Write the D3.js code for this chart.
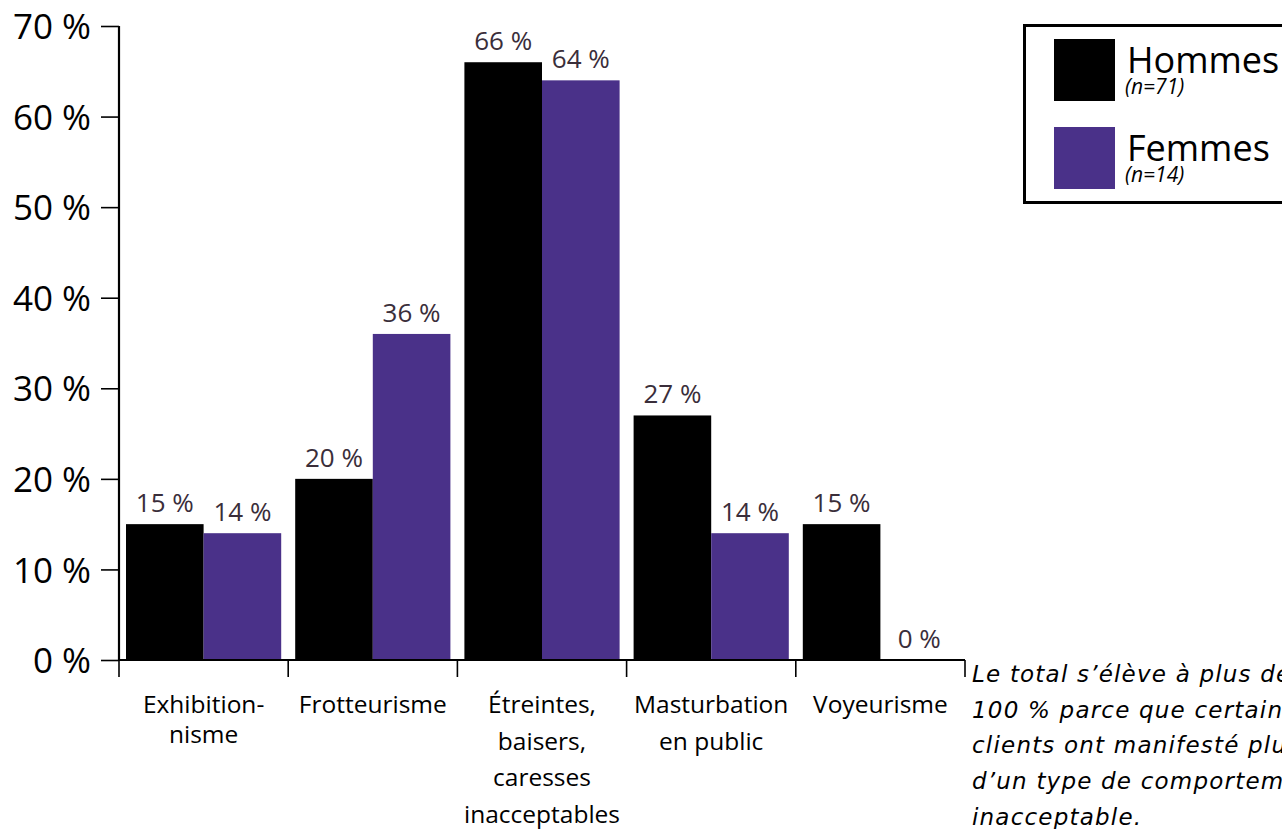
<!DOCTYPE html>
<html><head><meta charset="utf-8">
<script src="https://cdn.jsdelivr.net/npm/d3@7"></script>
<style>body{margin:0;background:#fff;} svg{display:block;}</style>
</head><body>
<svg id="c" width="1282" height="829"></svg>
<script>
const categories = ["Exhibitionnisme","Frotteurisme","Étreintes, baisers, caresses inacceptables","Masturbation en public","Voyeurisme"];
const categoryLines = [["Exhibition-","nisme"],["Frotteurisme"],["Étreintes,","baisers,","caresses","inacceptables"],["Masturbation","en public"],["Voyeurisme"]];
const series = ["Hommes","Femmes"];
const seriesN = ["(n=71)","(n=14)"];
const hommes = [15,20,66,27,15];
const femmes = [14,36,64,14,0];
const yTicks = [0,10,20,30,40,50,60,70];
const noteLines = ["Le total s’élève à plus de","100 % parce que certains","clients ont manifesté plus","d’un type de comportement","inacceptable."];
const colors = ["#000000","#4a3189"];

const svg = d3.select("#c");
const font = "'Open Sans', sans-serif";
const x0 = 119, x1 = 965, yBase = 660, yTop = 26;

const y = d3.scaleLinear().domain([0,70]).range([yBase,yTop]);
const x = d3.scaleBand().domain(categories).range([x0,x1]).padding(0);
const xs = d3.scaleBand().domain(series).range([7, x.bandwidth()-7]).padding(0);

const values = [hommes, femmes];
const data = [];
categories.forEach((c,i)=>series.forEach((s,j)=>data.push({c,s,j,v:values[j][i]})));

// bars
svg.append("g").selectAll("rect").data(data).join("rect")
  .attr("x", d=>x(d.c)+xs(d.s))
  .attr("width", xs.bandwidth())
  .attr("y", d=>y(d.v))
  .attr("height", d=>yBase-y(d.v))
  .attr("fill", d=>colors[d.j]);

// value labels
svg.append("g").selectAll("text").data(data).join("text")
  .attr("x", d=>x(d.c)+xs(d.s)+xs.bandwidth()/2)
  .attr("y", d=>y(d.v)-12)
  .attr("text-anchor","middle")
  .attr("font-family",font).attr("font-size",26)
  .attr("fill","#3a2e3a")
  .text(d=>d.v+" %");

// y axis
const yAxis = d3.axisLeft(y).tickValues(yTicks).tickSize(18).tickPadding(10).tickFormat(d=>d+" %");
const gy = svg.append("g").attr("transform",`translate(${x0},0)`).call(yAxis);
gy.select(".domain").attr("stroke","#000").attr("stroke-width",2.2).attr("d",`M0,${yTop}V${yBase}`);
gy.selectAll(".tick line").attr("stroke","#000").attr("stroke-width",1.6);
gy.selectAll(".tick text").attr("font-family",font).attr("font-size",35).attr("fill","#000").attr("dy","0.36em");

// x axis
const xAxis = d3.axisBottom(x).tickValues([]).tickSizeOuter(0);
const gx = svg.append("g").attr("transform",`translate(0,${yBase})`).call(xAxis);
gx.select(".domain").attr("stroke","#000").attr("stroke-width",2.2).attr("d",`M${x0},0H${x1}`);
const bounds = categories.map(c=>x(c)).concat([x1]);
gx.selectAll("line.sep").data(bounds).join("line").attr("class","sep")
  .attr("x1",d=>d).attr("x2",d=>d).attr("y1",0).attr("y2",17)
  .attr("stroke","#000").attr("stroke-width",1.6);

// category labels
categories.forEach((c,i)=>{
  const lh = i===0 ? 30 : 36.5;
  const t = svg.append("text").attr("font-family",font).attr("font-size",24.5).attr("fill","#000")
    .attr("text-anchor","middle");
  categoryLines[i].forEach((ln,k)=>{
    t.append("tspan").attr("x", x(c)+x.bandwidth()/2).attr("y", 713+k*lh).text(ln);
  });
});

// legend
const lg = svg.append("g");
lg.append("rect").attr("x",1024.5).attr("y",25.5).attr("width",320).attr("height",177)
  .attr("fill","#fff").attr("stroke","#000").attr("stroke-width",3);
series.forEach((s,j)=>{
  const top = 39 + j*88;
  lg.append("rect").attr("x",1054).attr("y",top).attr("width",61).attr("height",62).attr("fill",colors[j]);
  lg.append("text").attr("x",1127).attr("y",top+34).attr("font-family",font).attr("font-size",36).attr("fill","#000").text(s);
  lg.append("text").attr("x",1125).attr("y",top+55).attr("font-family",font).attr("font-size",21).attr("font-style","italic").attr("fill","#000").text(seriesN[j]);
});

// note
const nt = svg.append("text").attr("font-family","'DejaVu Sans', sans-serif").attr("font-size",23)
  .attr("font-style","italic").attr("letter-spacing",1.2).attr("fill","#000");
noteLines.forEach((ln,k)=>nt.append("tspan").attr("x",972).attr("y",682+k*35.7).text(ln));
</script>
</body></html>
